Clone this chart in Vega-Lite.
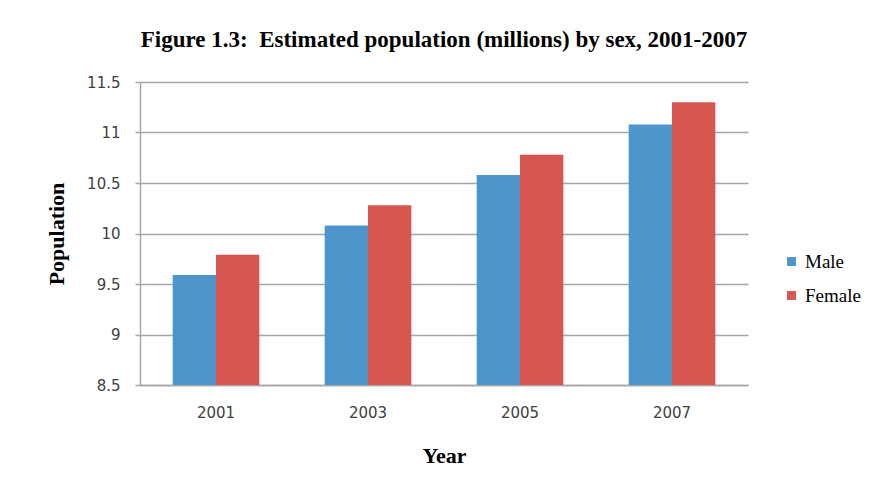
{
  "$schema": "https://vega.github.io/schema/vega-lite/v6.json",
  "width": 608,
  "height": 303,
  "autosize": "none",
  "padding": {"left": 140, "top": 82, "right": 125, "bottom": 104},
  "background": "white",
  "title": {
    "text": "Figure 1.3:\u00a0 Estimated population (millions) by sex, 2001-2007",
    "font": "Liberation Serif",
    "fontSize": 23,
    "fontWeight": "bold",
    "color": "#000000",
    "anchor": "middle",
    "offset": 23
  },
  "data": {
    "values": [
      {"year": "2001", "sex": "Male", "population": 9.59},
      {"year": "2001", "sex": "Female", "population": 9.79},
      {"year": "2003", "sex": "Male", "population": 10.08},
      {"year": "2003", "sex": "Female", "population": 10.28},
      {"year": "2005", "sex": "Male", "population": 10.58},
      {"year": "2005", "sex": "Female", "population": 10.78},
      {"year": "2007", "sex": "Male", "population": 11.08},
      {"year": "2007", "sex": "Female", "population": 11.3}
    ]
  },
  "mark": {"type": "bar", "clip": true},
  "encoding": {
    "x": {
      "field": "year",
      "type": "nominal",
      "scale": {"paddingInner": 0.43, "paddingOuter": 0.215},
      "axis": {
        "title": "Year",
        "titleFont": "Liberation Serif",
        "titleFontSize": 22,
        "titleFontWeight": "bold",
        "titleColor": "#000000",
        "titlePadding": 25,
        "labelAngle": 0,
        "labelFont": "DejaVu Sans",
        "labelFontSize": 15,
        "labelColor": "#404040",
        "labelPadding": 20,
        "ticks": false,
        "domainColor": "#a6a6a6",
        "domainWidth": 1.5
      }
    },
    "xOffset": {"field": "sex", "type": "nominal", "sort": ["Male", "Female"]},
    "y": {
      "field": "population",
      "type": "quantitative",
      "scale": {"domain": [8.5, 11.5], "nice": false, "zero": false},
      "axis": {
        "title": "Population",
        "titleFont": "Liberation Serif",
        "titleFontSize": 22,
        "titleFontWeight": "bold",
        "titleColor": "#000000",
        "titlePadding": 18,
        "values": [8.5, 9, 9.5, 10, 10.5, 11, 11.5],
        "format": "~g",
        "labelFont": "DejaVu Sans",
        "labelFontSize": 15,
        "labelColor": "#404040",
        "labelPadding": 15,
        "tickSize": 5,
        "tickColor": "#a6a6a6",
        "tickWidth": 1.5,
        "domainColor": "#a6a6a6",
        "domainWidth": 1.5,
        "grid": true,
        "gridColor": "#a6a6a6",
        "gridWidth": 1.5
      }
    },
    "color": {
      "field": "sex",
      "type": "nominal",
      "sort": ["Male", "Female"],
      "scale": {"domain": ["Male", "Female"], "range": ["#4E95CB", "#D75651"]},
      "legend": {
        "title": null,
        "orient": "none",
        "legendX": 642,
        "legendY": 170,
        "symbolType": "square",
        "symbolSize": 80,
        "symbolStrokeWidth": 0,
        "labelFont": "Liberation Serif",
        "labelFontSize": 19,
        "labelColor": "#000000",
        "labelOffset": 4,
        "rowPadding": 14
      }
    }
  },
  "config": {"view": {"stroke": null}}
}
